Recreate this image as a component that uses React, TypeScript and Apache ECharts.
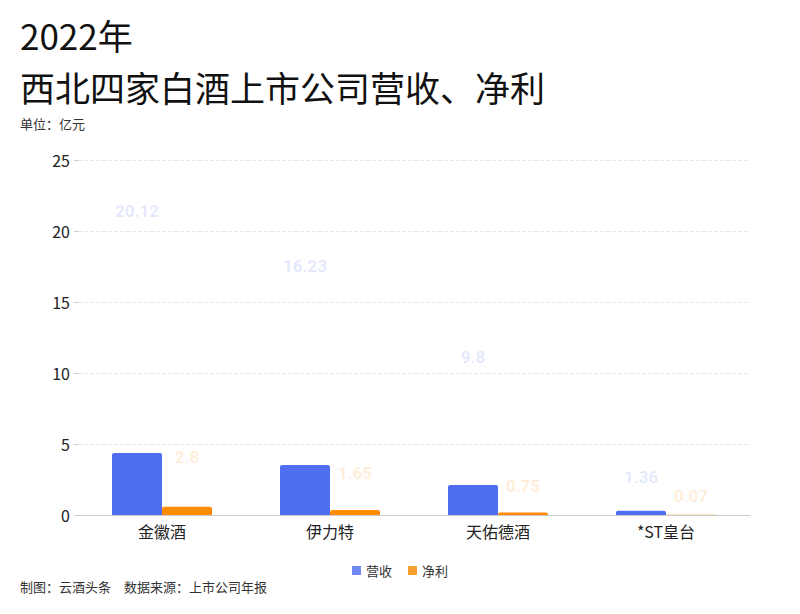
import React, { useEffect, useRef } from "react";
import * as echarts from "echarts";

const companies = ["金徽酒", "伊力特", "天佑德酒", "*ST皇台"];
// values shown in the labels (亿元)
const revenue = [20.12, 16.23, 9.8, 1.36];
const profit = [2.8, 1.65, 0.75, 0.07];
// bar heights as they appear in the picture
const revenueBar = [4.37, 3.52, 2.12, 0.3];
const profitBar = [0.58, 0.35, 0.17, 0.02];
const yTicks = { min: 0, max: 25, interval: 5 };

const BLUE = "#4f6ff0";
const ORANGE = "#ff8c00";
const FONT = "'Noto Sans CJK SC', 'Noto Sans', sans-serif";

const App = () => {
  const chartRef = useRef(null);

  useEffect(() => {
    document.body.style.margin = "0";
    const chart = echarts.init(chartRef.current, null, { renderer: "svg" });

    const labelSeries = (name, values, color, dx) => ({
      name,
      type: "scatter",
      symbolSize: 0,
      silent: true,
      data: values,
      label: {
        show: true,
        position: "top",
        distance: 10,
        offset: [dx, 0],
        color,
        fontSize: 17,
        fontWeight: "bold",
        fontFamily: "Roboto, 'Noto Sans', sans-serif",
      },
    });

    const titleStyle = {
      fontSize: 35,
      lineHeight: 39,
      fontWeight: "normal",
      color: "#111",
      fontFamily: FONT,
    };

    const option = {
      animation: false,
      textStyle: { fontFamily: FONT },
      title: [
        { text: "2022年", left: 15, top: 10, textStyle: titleStyle },
        { text: "西北四家白酒上市公司营收、净利", left: 15, top: 62, textStyle: titleStyle },
      ],
      graphic: [
        {
          type: "text",
          left: 20,
          top: 117,
          style: { text: "单位：亿元", fill: "#333", font: `13px ${FONT}` },
        },
        {
          type: "text",
          left: 20,
          top: 580,
          style: {
            text: "制图：云酒头条　数据来源：上市公司年报",
            fill: "#333",
            font: `13px ${FONT}`,
          },
        },
      ],
      legend: {
        bottom: 32,
        left: "center",
        itemWidth: 9,
        itemHeight: 9,
        itemGap: 16,
        icon: "rect",
        data: [
          { name: "营收", itemStyle: { color: "#6f88f5" } },
          { name: "净利", itemStyle: { color: "#f9a030" } },
        ],
        textStyle: { fontSize: 13, color: "#333", fontFamily: FONT },
      },
      grid: { left: 78, right: 50, top: 160, bottom: 99 },
      xAxis: {
        type: "category",
        data: companies,
        axisLine: { lineStyle: { color: "#ccc" } },
        axisTick: { alignWithLabel: true, length: 4, lineStyle: { color: "#ccc" } },
        axisLabel: { fontSize: 16, color: "#222", margin: 8, fontFamily: FONT },
      },
      yAxis: {
        type: "value",
        ...yTicks,
        axisLine: { show: false },
        axisTick: { show: true, length: 4, lineStyle: { color: "#ccc" } },
        axisLabel: { fontSize: 16, color: "#222", margin: 8, fontFamily: FONT },
        splitLine: { lineStyle: { type: "dashed", color: "#e6e6e6" } },
      },
      series: [
        {
          name: "营收",
          type: "bar",
          barWidth: 50,
          barGap: "0%",
          data: revenueBar,
          itemStyle: { color: BLUE, borderRadius: [2, 2, 0, 0] },
        },
        {
          name: "净利",
          type: "bar",
          barWidth: 50,
          data: profitBar,
          itemStyle: { color: ORANGE, borderRadius: [2, 2, 0, 0] },
        },
        labelSeries("营收标签", revenue, "rgba(79,111,240,0.2)", -25),
        labelSeries("净利标签", profit, "rgba(255,140,0,0.2)", 25),
      ],
    };

    chart.setOption(option);

    return () => {
      chart.dispose();
    };
  }, []);

  return <div ref={chartRef} style={{ width: 800, height: 614 }} />;
};

export default App;
